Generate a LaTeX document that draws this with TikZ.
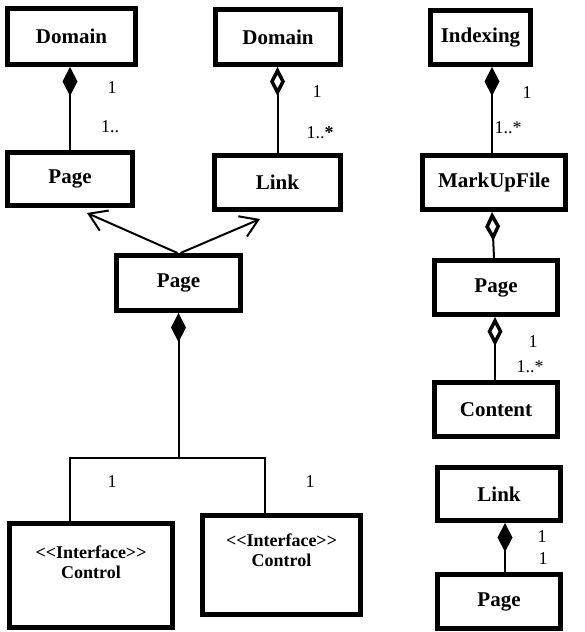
\documentclass[tikz,border=0pt]{standalone}
\usepackage{fontspec}
\setmainfont{Liberation Serif}
\usetikzlibrary{arrows.meta,calc}
\begin{document}
\begin{tikzpicture}[x=1pt,y=-1pt,
  cls/.style={draw, line width=5pt, inner sep=0pt, font=\bfseries\fontsize{21}{24}\selectfont},
  iface/.style={align=center, inner sep=0pt, font=\bfseries\fontsize{18}{20}\selectfont},
  mult/.style={inner sep=0pt, font=\fontsize{18}{20}\selectfont},
  conn/.style={line width=2pt},
  comp/.style={conn, {Diamond[length=29pt,width=15pt]}-},
  aggr/.style={conn, {Diamond[open,length=29pt,width=15pt,line width=3.5pt]}-},
  nav/.style={conn, -{Straight Barb[length=17pt,width=22pt]}}
]
\useasboundingbox (0,0) rectangle (585,632);

% classes, left part
\node[cls, minimum width=128pt, minimum height=56pt] (dom1) at (71.5,36.5) {Domain};
\node[cls, minimum width=125pt, minimum height=53pt] (page1) at (70,179) {Page};
\node[cls, minimum width=125pt, minimum height=55pt] (dom2) at (278,37) {Domain};
\node[cls, minimum width=126pt, minimum height=54pt] (link1) at (277.5,182.5) {Link};
\node[cls, minimum width=124pt, minimum height=55pt] (pagec) at (178.5,283) {Page};
\node[cls, minimum width=163pt, minimum height=104pt] (ctl1) at (91,575.5) {};
\node[cls, minimum width=158pt, minimum height=99pt] (ctl2) at (281.5,565) {};
\node[iface] (ctl1txt) at ([shift={(0,41.5)}]ctl1.north) {<{}<Interface>{}>\\Control};
\node[iface] (ctl2txt) at ([shift={(0,37.5)}]ctl2.north) {<{}<Interface>{}>\\Control};

% classes, right part
\node[cls, minimum width=100pt, minimum height=54pt] (idx) at (480.5,37.5) {Indexing};
\node[cls, minimum width=143pt, minimum height=54pt] (mark) at (494,182.5) {MarkUpFile};
\node[cls, minimum width=123pt, minimum height=54pt] (pager) at (496,287.5) {Page};
\node[cls, minimum width=123pt, minimum height=54pt] (content) at (496,409.5) {Content};
\node[cls, minimum width=123pt, minimum height=53pt] (link2) at (499,494) {Link};
\node[cls, minimum width=123pt, minimum height=54pt] (pagebr) at (499,601.5) {Page};

% associations
\draw[comp] (dom1.south -| page1.north) -- (page1.north);
\draw[aggr] (dom2.south -| link1.north) -- (link1.north);
\draw[nav] ([xshift=-1pt]pagec.north) -- ([shift={(17,5)}]page1.south);
\draw[nav] ([xshift=2pt]pagec.north) -- ([shift={(-17.5,7)}]link1.south);

\coordinate (fork) at (pagec.south |- 0,458);
\coordinate (fl) at (70,458);
\coordinate (fr) at (265,458);
\draw[comp] (pagec.south) -- (fork);
\draw[conn] (fl |- ctl1.north) -- (fl) -- (fr) -- (fr |- ctl2.north);

\draw[comp] ([xshift=-2pt]idx.south -| mark.north) -- ([xshift=-2pt]mark.north);
\draw[aggr] ([xshift=-2pt]mark.south) -- ([xshift=-2pt]pager.north);
\draw[aggr] ([xshift=-1pt]pager.south) -- ([xshift=-1pt]content.north);
\draw[comp] ([xshift=6pt]link2.south) -- ([xshift=6pt]pagebr.north);

% multiplicities
\node[mult] (m1) at (112,88) {1};
\node[mult] (m2) at (110,127) {1..};
\node[mult] (m3) at (317,92) {1};
\node[mult] (m4) at (320,133) {1..\textbf{*}};
\node[mult] (m5) at (527,93) {1};
\node[mult] (m6) at (508,128) {1..*};
\node[mult] (m7) at (533,342) {1};
\node[mult] (m8) at (530,367) {1..*};
\node[mult] (m9) at (542,537) {1};
\node[mult] (m10) at (543,559) {1};
\node[mult] (m11) at (112,482) {1};
\node[mult] (m12) at (310,482) {1};
\end{tikzpicture}
\end{document}
